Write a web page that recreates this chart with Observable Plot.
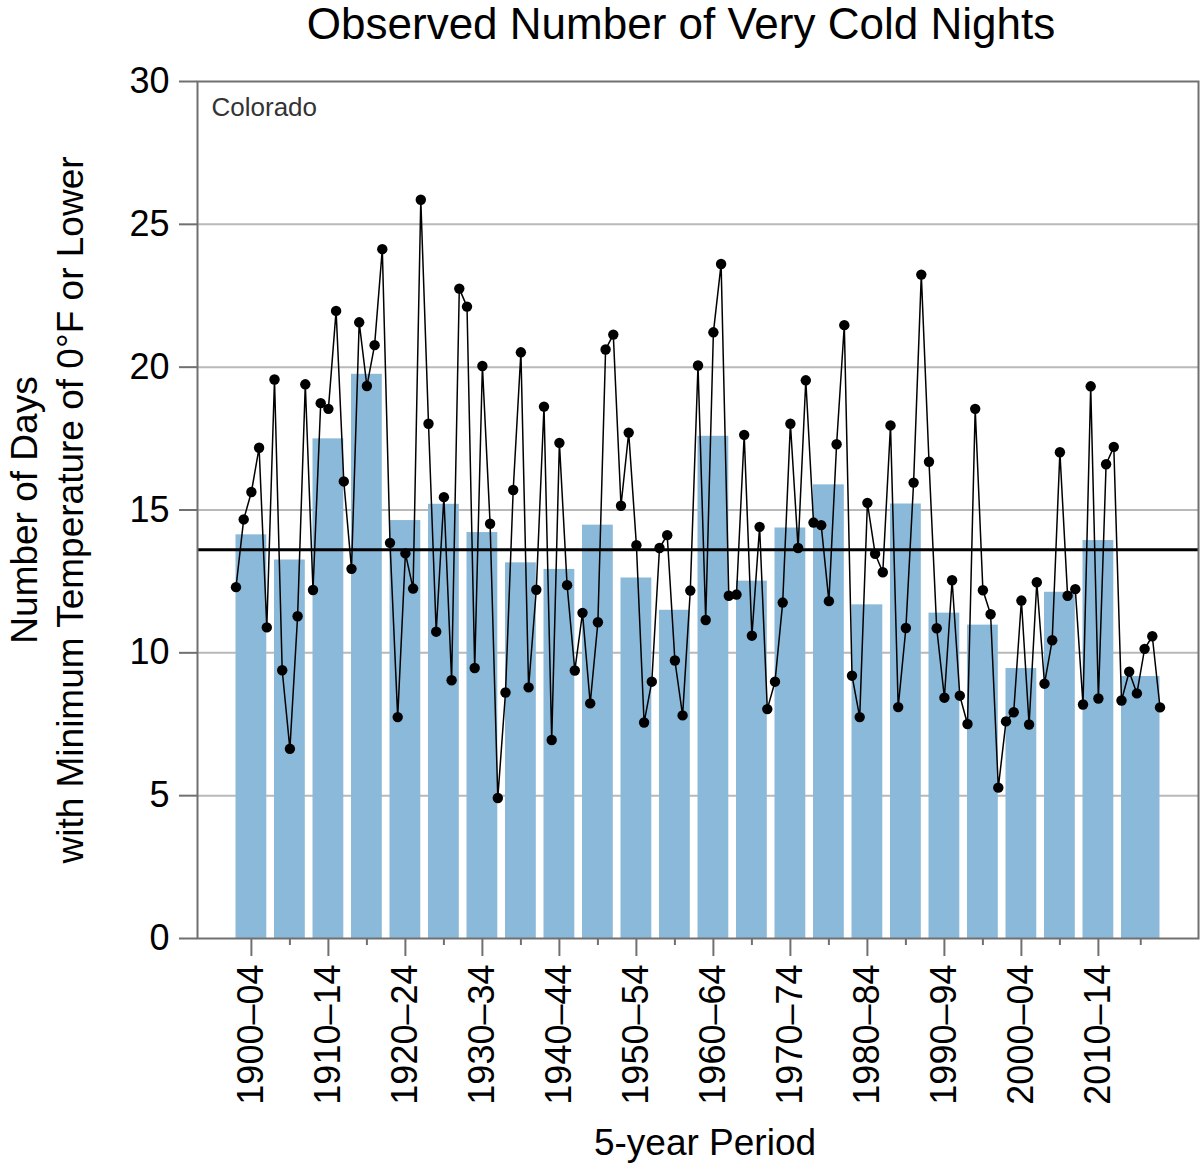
<!DOCTYPE html>
<html>
<head>
<meta charset="utf-8">
<script src="https://cdn.jsdelivr.net/npm/d3@7"></script>
<script src="https://cdn.jsdelivr.net/npm/@observablehq/plot@0.6"></script>
<style>
  html, body { margin: 0; padding: 0; background: #fff; }
  body { width: 1200px; font-family: "Liberation Sans", Arial, Helvetica, sans-serif; }
  #title { height: 56px; line-height: 48px; font-size: 44px; text-align: center; padding-left: 162px; color: #000; white-space: nowrap; }
  #chart svg { display: block; }
</style>
</head>
<body>
<div id="title">Observed Number of Very Cold Nights</div>
<div id="chart"></div>
<script>
// ---- data ----
const stateName = "Colorado";
const titleText = "Observed Number of Very Cold Nights";
const xAxisTitle = "5-year Period";
const yAxisTitle = "Number of Days\nwith Minimum Temperature of 0°F or Lower";

const firstYear = 1900;
const annualValues = [
  12.30, 14.67, 15.63, 17.18, 10.89, 19.57, 9.39, 6.64, 11.28, 19.40,
  12.20, 18.74, 18.54, 21.97, 16.00, 12.94, 21.57, 19.34, 20.77, 24.13,
  13.85, 7.75, 13.48, 12.25, 25.86, 18.02, 10.74, 15.45, 9.04, 22.75,
  22.12, 9.47, 20.04, 14.52, 4.92, 8.61, 15.70, 20.52, 8.79, 12.21,
  18.62, 6.95, 17.35, 12.37, 9.38, 11.40, 8.23, 11.07, 20.62, 21.14,
  15.15, 17.71, 13.77, 7.56, 8.99, 13.67, 14.12, 9.73, 7.81, 12.18,
  20.06, 11.15, 21.22, 23.61, 12.00, 12.04, 17.63, 10.60, 14.41, 8.03,
  8.99, 11.76, 18.02, 13.67, 19.54, 14.56, 14.47, 11.81, 17.30, 21.47,
  9.20, 7.75, 15.25, 13.47, 12.82, 17.96, 8.10, 10.87, 15.96, 23.24,
  16.69, 10.86, 8.43, 12.54, 8.50, 7.51, 18.54, 12.19, 11.35, 5.28,
  7.60, 7.92, 11.83, 7.49, 12.47, 8.92, 10.44, 17.02, 12.00, 12.23,
  8.19, 19.33, 8.40, 16.60, 17.21, 8.33, 9.34, 8.58, 10.14, 10.58,
  8.09
];

const periodStart = [1900, 1905, 1910, 1915, 1920, 1925, 1930, 1935, 1940, 1945, 1950, 1955,
                     1960, 1965, 1970, 1975, 1980, 1985, 1990, 1995, 2000, 2005, 2010, 2015];
const periodEnd   = [1904, 1909, 1914, 1919, 1924, 1929, 1934, 1939, 1944, 1949, 1954, 1959,
                     1964, 1969, 1974, 1979, 1984, 1989, 1994, 1999, 2004, 2009, 2014, 2020];
const periodMean  = [14.13, 13.25, 17.49, 19.75, 14.63, 15.20, 14.21, 13.15, 12.92, 14.47, 12.62, 11.49,
                     17.58, 12.51, 14.37, 15.88, 11.68, 15.21, 11.39, 10.97, 9.45, 12.12, 13.93, 9.17];

const longTermAverage = 13.61;

const majorTicks = [1902, 1912, 1922, 1932, 1942, 1952, 1962, 1972, 1982, 1992, 2002, 2012];
const tickLabels = ["1900–04", "1910–14", "1920–24", "1930–34", "1940–44", "1950–54",
                    "1960–64", "1970–74", "1980–84", "1990–94", "2000–04", "2010–14"];
const minorTicks = [1907, 1917, 1927, 1937, 1947, 1957, 1967, 1977, 1987, 1997, 2007, 2017.5];
const yTicks = [0, 5, 10, 15, 20, 25, 30];
const gridValues = [5, 10, 15, 20, 25];

// ---- tables for Plot ----
const annual = annualValues.map((value, i) => ({year: firstYear + i, value}));
const periods = periodStart.map((start, i) => ({start, end: periodEnd[i], mean: periodMean[i]}));
const labelByTick = new Map(majorTicks.map((t, i) => [t, tickLabels[i]]));

document.getElementById("title").textContent = titleText;

const font = "'Liberation Sans', Arial, Helvetica, sans-serif";
const frameGray = "#707070";

const chart = Plot.plot({
  width: 1200,
  height: 1112,
  marginTop: 25,
  marginBottom: 230,
  marginLeft: 197,
  marginRight: 2,
  x: {domain: [1895, 2025], label: null},
  y: {domain: [0, 30], label: null},
  style: {fontFamily: font, fontSize: "36px", color: "#000", background: "#fff"},
  marks: [
    Plot.ruleY(gridValues, {stroke: "#b9b9b9", strokeWidth: 2}),
    Plot.rectY(periods, {x1: "start", x2: "end", y: "mean", fill: "#8ab9d9"}),
    Plot.ruleY([longTermAverage], {stroke: "#000", strokeWidth: 3}),
    Plot.line(annual, {x: "year", y: "value", stroke: "#000", strokeWidth: 1.5}),
    Plot.dot(annual, {x: "year", y: "value", r: 5.2, fill: "#000", stroke: "none"}),
    Plot.frame({stroke: frameGray, strokeWidth: 2}),
    Plot.axisY({ticks: yTicks, tickSize: 18, tickPadding: 10, stroke: frameGray, strokeWidth: 2,
                fill: "#000", fontSize: 36, label: null, tickFormat: d => String(d)}),
    Plot.axisX({ticks: majorTicks, tickSize: 18, tickPadding: 8, tickRotate: -90,
                stroke: frameGray, strokeWidth: 2, fill: "#000", fontSize: 36, label: null,
                tickFormat: d => labelByTick.get(d)}),
    Plot.axisX({ticks: minorTicks, tickSize: 7, stroke: frameGray, strokeWidth: 2,
                label: null, tickFormat: () => ""}),
    Plot.text([stateName], {frameAnchor: "top-left", dx: 14, dy: 16, textAnchor: "start",
                lineAnchor: "top", fontSize: 26, fill: "#333"}),
    Plot.text([xAxisTitle], {frameAnchor: "bottom", dx: 7, dy: 190, lineAnchor: "top",
                fontSize: 37, fill: "#000"}),
    Plot.text([yAxisTitle], {frameAnchor: "left", dx: -152, rotate: -90, lineHeight: 1.25,
                textAnchor: "middle", lineAnchor: "middle", fontSize: 37, fill: "#000"})
  ]
});
document.getElementById("chart").appendChild(chart);
</script>
</body>
</html>
